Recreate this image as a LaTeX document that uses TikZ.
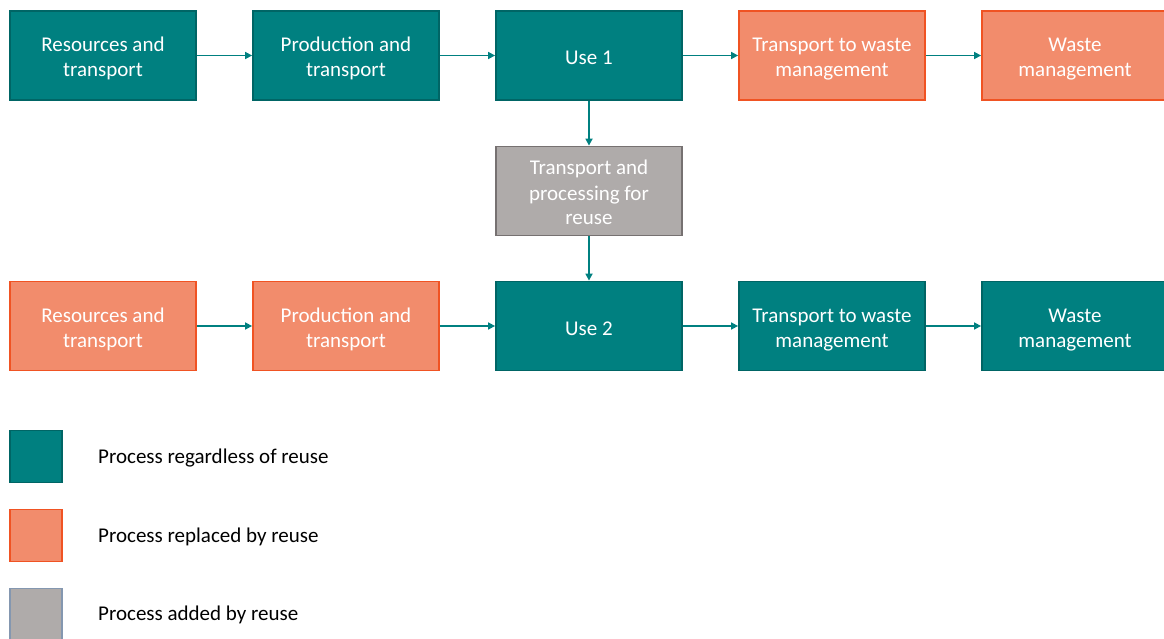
\documentclass[tikz,border=0pt]{standalone}
\usepackage{fontspec}
\setmainfont{Carlito}
\usetikzlibrary{arrows.meta}
\definecolor{tealfill}{HTML}{008080}
\definecolor{tealline}{HTML}{006565}
\definecolor{orfill}{HTML}{F28C6C}
\definecolor{orline}{HTML}{F05323}
\definecolor{grfill}{HTML}{AFABAA}
\definecolor{grline}{HTML}{767171}
\definecolor{grlegline}{HTML}{8497B0}
\newcommand{\bxt}[1]{\raisebox{-4pt}[\height][\depth]{\begin{tabular}{@{}c@{}}#1\end{tabular}}}
\tikzset{
  box/.style={rectangle, minimum width=186pt, minimum height=89pt, line width=1.8pt,
    text=white, font=\fontsize{21}{25}\selectfont, inner sep=0pt},
  keep/.style={box, fill=tealfill, draw=tealline},
  repl/.style={box, fill=orfill, draw=orline},
  added/.style={box, fill=grfill, draw=grline},
  legsq/.style={rectangle, minimum size=52pt, line width=1.8pt, inner sep=0pt},
  legtxt/.style={anchor=west, font=\fontsize{21}{25}\selectfont, text=black, inner sep=0pt},
  flow/.style={draw=tealfill, line width=1.6pt, -{Triangle[length=7pt,width=7pt]}}
}
\begin{document}
\begin{tikzpicture}[x=1pt,y=1pt]
\useasboundingbox (0,0) rectangle (1164,-639);
\clip (0,0) rectangle (1164,-639);
% row 1
\node[keep] (r1) at (103,-55.5) {\bxt{Resources and\\transport}};
\node[keep] (p1) at (346,-55.5) {\bxt{Production and\\transport}};
\node[keep] (u1) at (589,-55.5) {\bxt{Use 1}};
\node[repl] (t1) at (832,-55.5) {\bxt{Transport to waste\\management}};
\node[repl] (w1) at (1075,-55.5) {\bxt{Waste\\management}};
% middle
\node[added] (tp) at (589,-191) {\bxt{Transport and\\processing for\\reuse}};
% row 2
\node[repl] (r2) at (103,-326) {\bxt{Resources and\\transport}};
\node[repl] (p2) at (346,-326) {\bxt{Production and\\transport}};
\node[keep] (u2) at (589,-326) {\bxt{Use 2}};
\node[keep] (t2) at (832,-326) {\bxt{Transport to waste\\management}};
\node[keep] (w2) at (1075,-326) {\bxt{Waste\\management}};
% arrows
\draw[flow] (r1) -- (p1);
\draw[flow] (p1) -- (u1);
\draw[flow] (u1) -- (t1);
\draw[flow] (t1) -- (w1);
\draw[flow] (u1) -- (tp);
\draw[flow] (tp) -- (u2);
\draw[flow] (r2) -- (p2);
\draw[flow] (p2) -- (u2);
\draw[flow] (u2) -- (t2);
\draw[flow] (t2) -- (w2);
% legend
\node[legsq, fill=tealfill, draw=tealline] (l1) at (36,-456.5) {};
\node[legsq, fill=orfill, draw=orline] (l2) at (36,-535.5) {};
\node[legsq, fill=grfill, draw=grlegline] (l3) at (36,-614.5) {};
\node[legtxt] (lt1) at (98,-458) {Process regardless of reuse};
\node[legtxt] (lt2) at (98,-537) {Process replaced by reuse};
\node[legtxt] (lt3) at (98,-615) {Process added by reuse};
\end{tikzpicture}
\end{document}
